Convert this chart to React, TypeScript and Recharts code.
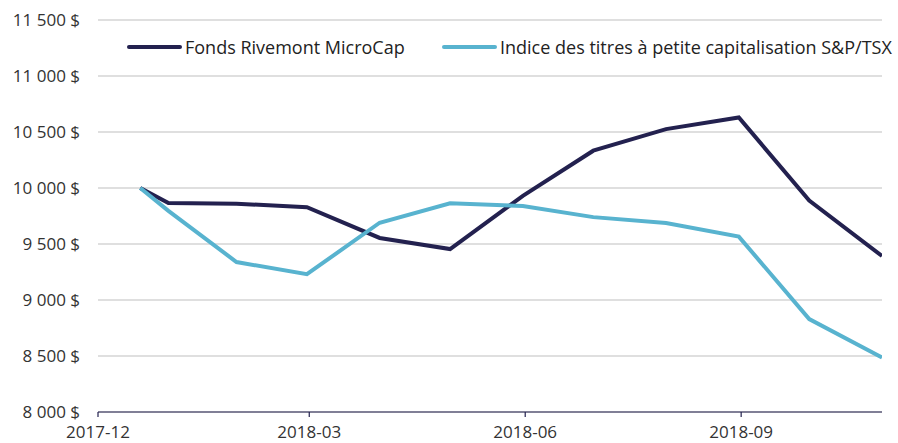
import { CartesianGrid, Legend, Line, LineChart, XAxis, YAxis } from "recharts";

const DATES = [
  "2017-12-19",
  "2017-12-31",
  "2018-01-29",
  "2018-02-28",
  "2018-03-31",
  "2018-04-30",
  "2018-05-31",
  "2018-06-30",
  "2018-07-31",
  "2018-08-31",
  "2018-09-30",
  "2018-10-31",
];
const FUND = [10000, 9866, 9860, 9828, 9554, 9455, 9930, 10333, 10526, 10630, 9887, 9393];
const INDEX = [10000, 9796, 9339, 9230, 9690, 9863, 9840, 9740, 9687, 9566, 8830, 8486];

const X_TICK_DATES = ["2017-12-01", "2018-03-01", "2018-06-01", "2018-09-01"];
const X_DOMAIN = ["2017-12-01", "2018-10-31"];
const Y_TICKS = [8000, 8500, 9000, 9500, 10000, 10500, 11000, 11500];

const FUND_NAME = "Fonds Rivemont MicroCap";
const INDEX_NAME = "Indice des titres à petite capitalisation S&P/TSX";

const NAVY = "#23214f";
const CYAN = "#58b3cf";
const FONT = "'Open Sans', sans-serif";

const toTime = (d: string) => Date.parse(d + "T00:00:00Z");

const chartData = DATES.map((d, i) => ({ t: toTime(d), fund: FUND[i], index: INDEX[i] }));

function fmtMoney(v: number) {
  const s = String(v);
  return s.length > 3 ? `${s.slice(0, -3)} ${s.slice(-3)} $` : `${s} $`;
}

function fmtMonth(t: number) {
  const d = new Date(t);
  return `${d.getUTCFullYear()}-${String(d.getUTCMonth() + 1).padStart(2, "0")}`;
}

function LegendBox() {
  const items = [
    { name: FUND_NAME, color: NAVY, left: 127 },
    { name: INDEX_NAME, color: CYAN, left: 442 },
  ];
  return (
    <div style={{ position: "relative", height: 24, fontFamily: FONT, fontSize: 18, color: "#222" }}>
      {items.map((it) => (
        <div
          key={it.name}
          style={{ position: "absolute", left: it.left, top: 0, display: "flex", alignItems: "center", whiteSpace: "nowrap" }}
        >
          <span style={{ display: "inline-block", width: 55, height: 4, borderRadius: 2, background: it.color, marginRight: 3 }} />
          {it.name}
        </div>
      ))}
    </div>
  );
}

export default function App() {
  return (
    <div style={{ position: "absolute", left: 0, top: 0, width: 898, height: 443, background: "#fff" }}>
      <LineChart width={898} height={443} data={chartData} margin={{ top: 20, right: 16, left: 0, bottom: 0 }}>
        <CartesianGrid stroke="#d4d4d4" strokeWidth={1.3} vertical={false} />
        <XAxis
          dataKey="t"
          type="number"
          scale="time"
          domain={X_DOMAIN.map(toTime)}
          ticks={X_TICK_DATES.map(toTime)}
          tickFormatter={fmtMonth}
          height={31}
          axisLine={{ stroke: NAVY, strokeWidth: 1.2 }}
          tickLine={{ stroke: NAVY, strokeWidth: 1.2 }}
          tickSize={5}
          tickMargin={9}
          tick={{ fill: "#333", fontSize: 17, fontFamily: FONT }}
          allowDataOverflow
        />
        <YAxis
          domain={[8000, 11500]}
          ticks={Y_TICKS}
          tickFormatter={fmtMoney}
          width={98}
          axisLine={false}
          tickLine={false}
          tickSize={0}
          tickMargin={18}
          tick={{ fill: "#333", fontSize: 17, fontFamily: FONT }}
        />
        <Legend
          layout="horizontal"
          verticalAlign="middle"
          content={<LegendBox />}
          wrapperStyle={{ top: 35, left: 0, width: 898 }}
        />
        <Line
          type="linear"
          dataKey="fund"
          name={FUND_NAME}
          stroke={NAVY}
          strokeWidth={4}
          dot={false}
          isAnimationActive={false}
        />
        <Line
          type="linear"
          dataKey="index"
          name={INDEX_NAME}
          stroke={CYAN}
          strokeWidth={4}
          dot={false}
          isAnimationActive={false}
        />
      </LineChart>
    </div>
  );
}
